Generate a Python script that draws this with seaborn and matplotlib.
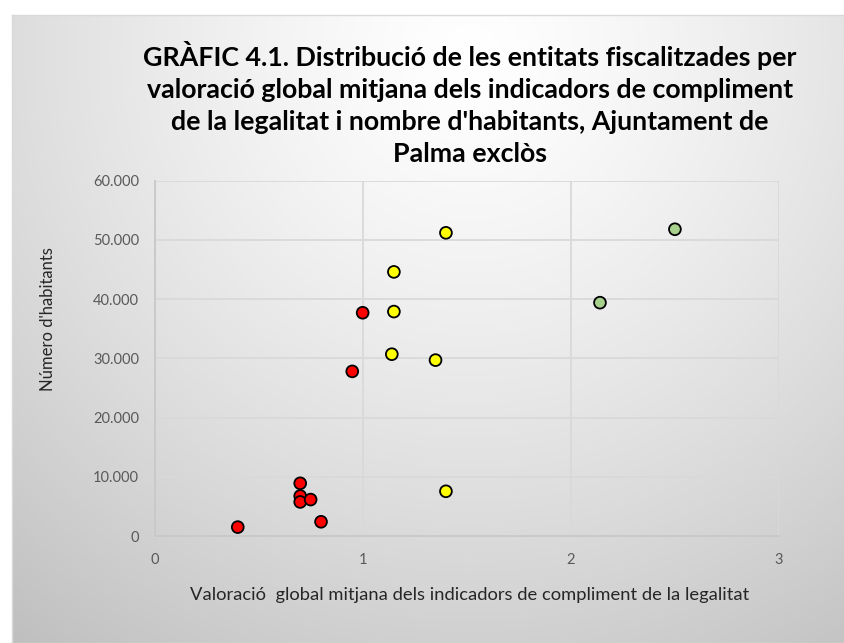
import numpy as np
import pandas as pd
import matplotlib
matplotlib.use("Agg")
import matplotlib.pyplot as plt
import seaborn as sns

# ---- data ----
red_x = [0.40, 0.70, 0.70, 0.70, 0.75, 0.80, 0.95, 1.00]
red_y = [1500, 8900, 6750, 5750, 6150, 2400, 27800, 37700]
yellow_x = [1.40, 1.15, 1.15, 1.14, 1.35, 1.40]
yellow_y = [51200, 44600, 37900, 30700, 29700, 7550]
green_x = [2.50, 2.14]
green_y = [51800, 39400]
group_names = ["baix", "mitjà", "alt"]
group_colors = ["#FF0000", "#FFFF00", "#A9D18E"]
xticks = [0, 1, 2, 3]
yticks = [0, 10000, 20000, 30000, 40000, 50000, 60000]

title = ("GRÀFIC 4.1. Distribució de les entitats fiscalitzades per\n"
         "valoració global mitjana dels indicadors de compliment\n"
         "de la legalitat i nombre d'habitants, Ajuntament de\n"
         "Palma exclòs")
xlabel = "Valoració  global mitjana dels indicadors de compliment de la legalitat"
ylabel = "Número d'habitants"

df = pd.DataFrame({
    "x": red_x + yellow_x + green_x,
    "y": red_y + yellow_y + green_y,
    "g": [group_names[0]] * len(red_x) + [group_names[1]] * len(yellow_x) + [group_names[2]] * len(green_x),
})

sns.set_theme(style="white")
plt.rcParams["font.family"] = ["Lato", "DejaVu Sans"]

W, H = 845, 643
fig = plt.figure(figsize=(W / 100, H / 100), dpi=100)
fig.patch.set_facecolor("white")

# background gradient panel
bg = fig.add_axes([12 / W, 0, 1 - 12 / W, 1 - 15 / H], zorder=0)
yy, xx = np.mgrid[0:628, 0:833]
cx, cy = 458, 40
d = np.sqrt(((xx - cx) / 1.0) ** 2 + ((yy - cy) / 1.0) ** 2) / 740.0
v = 1 - 0.25 * np.clip(d, 0, 1) ** 1.3
img = np.dstack([v, v, v])
bg.imshow(img, aspect="auto", extent=[0, 1, 0, 1], origin="upper")
bg.set_xlim(0, 1); bg.set_ylim(0, 1)
bg.set_xticks([]); bg.set_yticks([])
for s in bg.spines.values():
    s.set_color("#d9d9d9")
    s.set_linewidth(1.0)

ax = fig.add_axes([154.5 / W, 1 - 536 / H, (779 - 154.5) / W, (536 - 180.7) / H], zorder=2)
ax.set_facecolor("none")

sns.scatterplot(data=df, x="x", y="y", hue="g", palette=dict(zip(group_names, group_colors)),
                s=72, edgecolor="black", linewidth=1.3, legend=False, ax=ax, zorder=3)

ax.set_xlim(0, 3)
ax.set_ylim(0, 60000)
ax.set_xticks(xticks)
ax.set_yticks(yticks)
ax.set_xticklabels([str(t) for t in xticks])
ax.set_yticklabels([f"{t:,}".replace(",", ".") for t in yticks])
ax.tick_params(axis="both", length=0, labelsize=10.5, colors="#595959")
ax.tick_params(axis="x", pad=12)
ax.tick_params(axis="y", pad=11)
ax.grid(True, color="#d9d9d9", linewidth=1.3)
ax.set_axisbelow(True)
for k, s in ax.spines.items():
    if k in ("left", "bottom"):
        s.set_color("#c8c8c8")
        s.set_linewidth(1.3)
    else:
        s.set_visible(False)

ax.set_xlabel(xlabel, fontsize=13.2, color="#262626")
ax.xaxis.set_label_coords((469.5 - 154.5) / (779 - 154.5), -(595 - 536) / (536 - 180.7))
ax.xaxis.label.set_va("center")
ax.set_ylabel(ylabel, fontsize=12, color="#262626")
ax.yaxis.set_label_coords(-(154.5 - 48) / (779 - 154.5), (536 - 319) / (536 - 180.7))
ax.yaxis.label.set_va("center")

fig.text(470 / W, 1 - 103.5 / H, title, ha="center", va="center", fontsize=19.3,
         fontweight="bold", color="#000000", linespacing=1.4)

fig.savefig("out.png", dpi=100, facecolor="white")
